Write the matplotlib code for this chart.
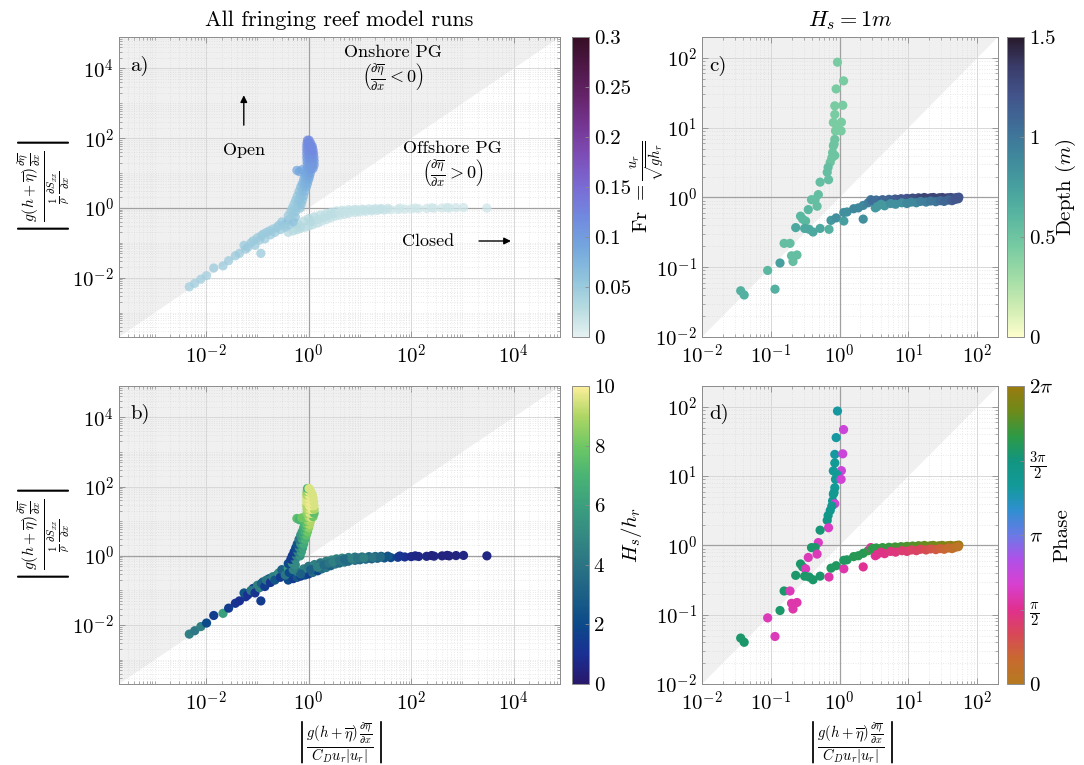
import numpy as np
import matplotlib
matplotlib.use("Agg")
import matplotlib.pyplot as plt
from matplotlib.colors import LinearSegmentedColormap
from matplotlib.ticker import FixedLocator, FuncFormatter, LogLocator, NullFormatter

plt.rcParams['font.family'] = ['cmr10']
plt.rcParams['mathtext.fontset'] = 'cm'
plt.rcParams['axes.formatter.use_mathtext'] = True
plt.rcParams['axes.unicode_minus'] = False

# ---------------- data: all fringing reef runs (panels a, b) ----------------
# horizontal (closed) branch
hor_x = [0.40, 0.50, 0.60, 0.70, 0.85, 1.0, 1.2, 1.5, 1.8, 2.2, 2.7, 3.3, 4.0, 5.0, 6.0, 8.0, 10, 13, 17, 22,
         30, 40, 55, 75, 100, 140, 200, 280, 400, 550, 750, 1050, 3000,
         0.60, 0.80, 1.0, 1.3, 1.7, 2.2, 2.8, 3.5, 4.5, 6.0, 8.0, 11, 15, 20, 26, 35, 60, 120, 250, 500,
         0.70, 1.1, 1.5, 2.0, 2.5, 3.0, 4.0, 5.0, 7.0, 9.0, 12, 18, 25]
hor_y = [0.20, 0.22, 0.24, 0.26, 0.28, 0.30, 0.33, 0.37, 0.42, 0.46, 0.52, 0.58, 0.62, 0.66, 0.70, 0.74, 0.77, 0.80, 0.82, 0.85,
         0.87, 0.89, 0.91, 0.93, 0.95, 0.96, 0.97, 0.98, 1.0, 1.0, 1.02, 1.03, 1.0,
         0.35, 0.42, 0.50, 0.56, 0.63, 0.70, 0.76, 0.82, 0.86, 0.90, 0.92, 0.93, 0.95, 0.96, 0.97, 0.98, 0.99, 1.0, 1.02, 1.03,
         0.30, 0.40, 0.47, 0.55, 0.62, 0.68, 0.74, 0.80, 0.84, 0.87, 0.88, 0.90, 0.92]
hor_ca = [0.03, 0.03, 0.03, 0.03, 0.025, 0.025, 0.025, 0.025, 0.02, 0.02, 0.02, 0.02, 0.02, 0.02, 0.02, 0.02, 0.02, 0.02, 0.02, 0.02,
          0.02, 0.015, 0.015, 0.015, 0.015, 0.015, 0.015, 0.015, 0.015, 0.015, 0.015, 0.015, 0.015,
          0.035, 0.03, 0.03, 0.03, 0.025, 0.025, 0.025, 0.025, 0.02, 0.02, 0.02, 0.02, 0.02, 0.02, 0.02, 0.02, 0.015, 0.015, 0.015, 0.015,
          0.03, 0.03, 0.025, 0.025, 0.025, 0.025, 0.02, 0.02, 0.02, 0.02, 0.02, 0.02, 0.02]
hor_cb = [2.0, 1.5, 2.5, 1.5, 2.0, 1.5, 3.5, 2.0, 3.5, 4.0, 3.0, 4.0, 3.5, 4.0, 3.5, 4.0, 3.5, 3.5, 3.0, 3.0,
          2.5, 2.0, 1.5, 1.0, 0.8, 0.7, 0.6, 0.6, 0.5, 0.5, 0.5, 0.6, 0.6,
          4.0, 4.5, 4.0, 4.5, 4.0, 4.5, 5.0, 4.5, 5.0, 4.5, 4.0, 4.0, 3.5, 3.5, 3.0, 2.5, 1.2, 0.7, 0.5, 0.5,
          3.0, 3.0, 4.5, 3.5, 4.0, 4.5, 4.0, 3.5, 4.5, 4.0, 4.5, 4.0, 3.5]

# lower diagonal branch
diag_x = [0.0047, 0.0060, 0.0079, 0.0102, 0.0141, 0.0214, 0.0275, 0.0372, 0.0447, 0.0590, 0.0830, 0.1170,
          0.1000, 0.1290, 0.1700, 0.2400, 0.3470, 0.055, 0.065, 0.075, 0.09, 0.11, 0.12, 0.14, 0.15, 0.18,
          0.20, 0.22, 0.26, 0.28, 0.30, 0.35, 0.40, 0.42, 0.50, 0.55]
diag_y = [0.0055, 0.0069, 0.0091, 0.0115, 0.0190, 0.0219, 0.0309, 0.0427, 0.0501, 0.0660, 0.1150, 0.0500,
          0.1410, 0.1780, 0.2190, 0.2750, 0.3390, 0.085, 0.075, 0.10, 0.085, 0.12, 0.16, 0.13, 0.20, 0.17,
          0.25, 0.20, 0.32, 0.24, 0.40, 0.28, 0.45, 0.33, 0.40, 0.55]
diag_ca = [0.045, 0.045, 0.045, 0.045, 0.05, 0.05, 0.05, 0.05, 0.05, 0.05, 0.05, 0.05,
           0.05, 0.05, 0.05, 0.05, 0.06, 0.05, 0.05, 0.05, 0.05, 0.05, 0.05, 0.05, 0.05, 0.05,
           0.05, 0.05, 0.05, 0.05, 0.055, 0.05, 0.06, 0.05, 0.06, 0.06]
diag_cb = [4.5, 4.2, 4.5, 2.0, 1.5, 6.0, 1.5, 1.2, 1.0, 1.2, 1.5, 1.5,
           4.5, 3.5, 2.0, 1.5, 2.0, 2.5, 1.0, 4.0, 1.2, 4.5, 3.0, 1.5, 4.0, 1.3,
           4.5, 2.5, 5.0, 1.5, 3.0, 4.0, 5.5, 2.0, 4.5, 5.0]

# vertical (open) branch
ver_x = [0.40, 0.48, 0.45, 0.55, 0.48, 0.58, 0.68, 0.52, 0.62, 0.72, 0.56, 0.66, 0.76, 0.60, 0.70, 0.80,
         0.65, 0.75, 0.85, 0.70, 0.80, 0.90, 0.75, 0.85, 0.95, 0.80, 0.90, 1.00, 0.84, 0.94, 1.04,
         0.88, 0.98, 1.08, 0.59, 0.66, 0.74, 0.92, 1.02, 1.12, 1.22, 0.93, 1.05, 1.17, 1.28,
         0.93, 1.05, 1.17, 1.28, 0.92, 1.04, 1.16, 1.27, 0.92, 1.04, 1.16, 1.25, 0.92, 1.03, 1.14, 1.22,
         0.92, 1.02, 1.12, 1.18, 0.93, 1.02, 1.10, 0.95, 1.02]
ver_y = [0.60, 0.62, 0.80, 0.80, 1.0, 1.0, 1.0, 1.3, 1.3, 1.3, 1.7, 1.7, 1.7, 2.2, 2.2, 2.2,
         3.0, 3.0, 3.0, 4.0, 4.0, 4.0, 5.0, 5.0, 5.0, 6.5, 6.5, 6.5, 8.0, 8.0, 8.0,
         10, 10, 10, 12, 11, 12.5, 13, 13, 13, 13.5, 17, 17, 17, 17,
         22, 22, 22, 22, 28, 28, 28, 28, 36, 36, 36, 36, 46, 46, 46, 46,
         58, 58, 58, 58, 72, 72, 72, 88, 88]
ver_ca = [0.05, 0.05, 0.05, 0.055, 0.05, 0.055, 0.055, 0.05, 0.055, 0.06, 0.055, 0.06, 0.06, 0.055, 0.06, 0.065,
          0.06, 0.065, 0.07, 0.065, 0.07, 0.075, 0.07, 0.075, 0.08, 0.075, 0.08, 0.085, 0.08, 0.085, 0.09,
          0.085, 0.09, 0.095, 0.09, 0.09, 0.09, 0.09, 0.095, 0.1, 0.1, 0.095, 0.1, 0.1, 0.105,
          0.1, 0.105, 0.105, 0.105, 0.105, 0.11, 0.11, 0.11, 0.11, 0.115, 0.115, 0.115, 0.115, 0.115, 0.12, 0.12,
          0.115, 0.12, 0.12, 0.12, 0.12, 0.12, 0.12, 0.12, 0.12]
ver_cb = [2.0, 5.0, 1.5, 5.0, 1.5, 4.5, 5.5, 1.5, 4.5, 6.0, 2.0, 5.0, 6.0, 2.5, 5.5, 6.5,
          4.0, 6.0, 7.0, 5.5, 6.5, 7.5, 6.0, 7.0, 8.0, 6.5, 7.5, 8.5, 7.0, 8.0, 9.0,
          7.5, 8.5, 9.0, 7.5, 7.0, 8.0, 8.0, 9.0, 9.5, 8.0, 8.5, 9.5, 9.5, 7.5,
          9.0, 9.5, 9.8, 9.0, 9.0, 9.8, 9.8, 9.5, 9.5, 9.8, 9.8, 9.5, 9.5, 9.8, 9.8, 9.5,
          9.0, 9.8, 9.8, 9.5, 8.5, 9.8, 9.5, 7.0, 9.5]

# ---------------- data: Hs = 1 m runs (panels c, d) ----------------
hs1_x = [0.93, 1.14, 0.89, 0.85, 1.11, 0.85, 0.81, 1.06, 0.91, 0.87, 1.05, 0.85, 0.83, 0.81, 0.79, 0.85,
         0.77, 0.73, 0.68, 0.66, 0.69, 0.52, 0.49, 0.44, 0.39, 0.47, 0.35, 0.27, 0.29, 0.32, 0.23, 0.31,
         0.36, 0.41, 0.52, 0.70, 0.156, 0.19, 0.20, 0.24, 0.21, 0.136, 0.09, 0.115, 0.0365, 0.041,
         0.75, 0.89, 1.15, 1.15, 1.28, 1.6, 1.87, 2.2, 2.2, 2.6, 2.84, 3.3,
         3.0, 3.4, 3.8, 4.2, 4.7, 5.2, 5.8, 6.4, 7.0, 7.8, 8.6, 9.5, 10.5, 11.5, 12.7, 14, 15.5, 17, 19,
         21, 23, 25.5, 28, 31, 34, 37, 41, 45, 50, 54,
         3.5, 4.0, 4.5, 5.5, 6.5, 8.0, 9.5, 11, 13, 15, 18, 21, 25, 29, 33, 38, 43, 48, 53]
hs1_fr = [87, 47, 36, 20.6, 21, 15.5, 11.9, 12, 10.6, 9.0, 9.0, 6.8, 5.8, 5.5, 4.4, 4.0,
          3.7, 3.2, 2.7, 2.3, 1.8, 1.66, 1.1, 0.93, 0.93, 0.75, 0.67, 0.54, 0.49, 0.46, 0.37, 0.36,
          0.35, 0.32, 0.36, 0.35, 0.22, 0.22, 0.146, 0.15, 0.121, 0.115, 0.09, 0.0485, 0.046, 0.040,
          0.47, 0.51, 0.46, 0.61, 0.62, 0.69, 0.71, 0.49, 0.77, 0.84, 0.93, 0.71,
          0.90, 0.92, 0.88, 0.93, 0.90, 0.94, 0.91, 0.95, 0.93, 0.96, 0.94, 0.97, 0.95, 0.98, 0.96, 0.99, 0.97, 1.0, 0.97,
          0.99, 1.0, 0.97, 0.99, 1.0, 0.97, 0.99, 1.0, 0.98, 1.0, 1.01,
          0.74, 0.80, 0.76, 0.82, 0.80, 0.84, 0.82, 0.86, 0.84, 0.88, 0.86, 0.89, 0.87, 0.90, 0.88, 0.92, 0.90, 0.94, 0.96]
hs1_depth = [0.45, 0.45, 0.45, 0.45, 0.45, 0.45, 0.45, 0.45, 0.45, 0.45, 0.45, 0.5, 0.5, 0.5, 0.5, 0.5,
             0.5, 0.5, 0.55, 0.55, 0.55, 0.55, 0.55, 0.55, 0.55, 0.55, 0.6, 0.6, 0.6, 0.6, 0.7, 0.7,
             0.7, 0.7, 0.7, 0.65, 0.55, 0.55, 0.55, 0.55, 0.55, 0.75, 0.6, 0.65, 0.65, 0.65,
             0.8, 0.85, 0.75, 0.85, 0.85, 0.9, 0.9, 0.85, 0.9, 0.95, 1.0, 0.8,
             1.05, 1.05, 1.05, 1.1, 1.1, 1.1, 1.15, 1.15, 1.15, 1.2, 1.2, 1.2, 1.2, 1.25, 1.25, 1.25, 1.3, 1.3, 1.3,
             1.3, 1.3, 1.3, 1.3, 1.3, 1.3, 1.3, 1.25, 1.25, 1.2, 1.2,
             0.8, 0.8, 0.8, 0.85, 0.85, 0.85, 0.9, 0.9, 0.9, 0.95, 0.95, 1.0, 1.0, 1.05, 1.1, 1.1, 1.15, 1.2, 1.2]
hs1_phase = [4.1, 2.3, 4.1, 4.1, 2.3, 4.2, 4.2, 2.3, 4.2, 4.2, 2.2, 4.2, 4.3, 4.3, 4.3, 2.2,
             4.4, 4.4, 4.5, 4.6, 2.0, 4.8, 2.0, 4.9, 4.9, 1.9, 1.9, 4.9, 4.9, 1.9, 4.9, 4.9,
             4.9, 4.9, 4.9, 1.8, 4.9, 1.9, 1.8, 1.8, 1.8, 4.9, 1.9, 1.9, 4.9, 4.9,
             5.0, 5.0, 1.8, 5.0, 5.0, 5.1, 5.1, 1.6, 5.1, 5.2, 1.7, 1.6,
             5.2, 5.2, 5.2, 5.3, 5.3, 5.3, 5.3, 5.4, 5.4, 5.4, 5.4, 5.5, 5.5, 5.5, 5.6, 5.6, 5.6, 5.7, 5.7,
             5.7, 5.8, 5.8, 5.9, 5.9, 6.0, 6.0, 6.1, 6.1, 6.2, 6.2,
             1.6, 1.5, 1.5, 1.4, 1.4, 1.3, 1.3, 1.2, 1.2, 1.1, 1.0, 0.9, 0.8, 0.7, 0.6, 0.5, 0.4, 0.3, 0.2]

ab_x = hor_x + diag_x + ver_x
ab_y = hor_y + diag_y + ver_y
ab_ca = hor_ca + diag_ca + ver_ca
ab_cb = hor_cb + diag_cb + ver_cb

# ---------------- colormaps (cmocean-like) ----------------
dense = LinearSegmentedColormap.from_list('dense', ['#e6f1f1', '#b4dae0', '#8ec2dc', '#74a6de', '#7189df',
                                                    '#7a6bd4', '#7d4fb8', '#763795', '#66246b', '#4f1848', '#360e24'])
haline = LinearSegmentedColormap.from_list('haline', ['#29186b', '#1a2f93', '#0c4a8a', '#1c6086', '#2b7484',
                                                      '#348a83', '#3b9f7e', '#4ab474', '#6ec764', '#aed664', '#fdef9a'])
deep = LinearSegmentedColormap.from_list('deep', ['#fdfecc', '#cdecb2', '#a0dca6', '#78cba2', '#5ab7a0',
                                                  '#47a09f', '#3f889c', '#3f6f98', '#42558c', '#3a3d6b', '#281a2c'])
phase = LinearSegmentedColormap.from_list('phase', ['#b57a20', '#c86a30', '#d84858', '#e0308f', '#d840d0',
                                                    '#b050e8', '#6a7ae6', '#2f8fd0', '#129a98', '#129580',
                                                    '#2e9a45', '#6d8a1a', '#9a7a10'])

W, H = 1084, 765
fig = plt.figure(figsize=(W / 100, H / 100), dpi=100)


def pos(x0, y0, x1, y1):
    return [x0 / W, 1 - y1 / H, (x1 - x0) / W, (y1 - y0) / H]


ax_a = fig.add_axes(pos(119, 37, 560, 337))
ax_b = fig.add_axes(pos(119, 386, 560, 684))
cax_a = fig.add_axes(pos(572, 37, 589, 337))
cax_b = fig.add_axes(pos(572, 386, 589, 684))
ax_c = fig.add_axes(pos(702, 37, 998, 337))
ax_d = fig.add_axes(pos(702, 386, 998, 684))
cax_c = fig.add_axes(pos(1007, 37, 1024, 337))
cax_d = fig.add_axes(pos(1007, 386, 1024, 684))

FS = 15
spine_col = '#8c8c8c'


def pow_fmt(v, p):
    e = int(round(np.log10(v)))
    return r'$10^{%d}$' % e


def style_axes(ax, lim, majors):
    ax.set_xscale('log')
    ax.set_yscale('log')
    ax.set_xlim(lim)
    ax.set_ylim(lim)
    ax.fill([lim[0], lim[1], lim[0]], [lim[0], lim[1], lim[1]], color='#f0f0f0', zorder=0.2, lw=0)
    ax.set_axisbelow(True)
    for axis in (ax.xaxis, ax.yaxis):
        axis.set_major_locator(FixedLocator(majors))
        axis.set_major_formatter(FuncFormatter(pow_fmt))
        axis.set_minor_locator(LogLocator(base=10, subs=np.arange(1, 10), numticks=60))
        axis.set_minor_formatter(NullFormatter())
    ax.grid(which='major', color='#d8d8d8', lw=0.7, ls='-')
    ax.grid(which='minor', color='#d6d6d6', lw=0.5, ls=(0, (1, 2.5)))
    ax.axhline(1, color='#a0a0a0', lw=0.9, zorder=0.6)
    ax.axvline(1, color='#a0a0a0', lw=0.9, zorder=0.6)
    ax.tick_params(which='both', direction='in', top=True, right=True, color=spine_col, labelsize=FS)
    ax.tick_params(which='major', length=4, width=0.6)
    ax.tick_params(which='minor', length=2, width=0.5)
    ax.tick_params(axis='x', which='major', pad=5)
    for s in ax.spines.values():
        s.set_color(spine_col)
        s.set_linewidth(0.7)


lim_ab = (2e-4, 8e4)
lim_cd = (1e-2, 2e2)
for ax in (ax_a, ax_b):
    style_axes(ax, lim_ab, [1e-2, 1e0, 1e2, 1e4])
for ax in (ax_c, ax_d):
    style_axes(ax, lim_cd, [1e-2, 1e-1, 1e0, 1e1, 1e2])

ms = 44
sa = ax_a.scatter(ab_x, ab_y, c=ab_ca, cmap=dense, vmin=0, vmax=0.3, s=ms, lw=0, alpha=0.75, zorder=3)
sb = ax_b.scatter(ab_x, ab_y, c=ab_cb, cmap=haline, vmin=0, vmax=10, s=ms, lw=0, zorder=3)
sc = ax_c.scatter(hs1_x, hs1_fr, c=hs1_depth, cmap=deep, vmin=0, vmax=1.5, s=ms, lw=0, zorder=3)
sd = ax_d.scatter(hs1_x, hs1_fr, c=hs1_phase, cmap=phase, vmin=0, vmax=2 * np.pi, s=ms, lw=0, zorder=3)

# labels
ylab_ab = r'$\left|\frac{g(h+\overline{\eta})\,\frac{\partial\overline{\eta}}{\partial x}}{\frac{1}{\rho}\,\frac{\partial S_{xx}}{\partial x}}\right|$'
xlab = r'$\left|\frac{g(h+\overline{\eta})\,\frac{\partial\overline{\eta}}{\partial x}}{C_D u_r|u_r|}\right|$'
ax_a.set_ylabel(ylab_ab, fontsize=16)
ax_b.set_ylabel(ylab_ab, fontsize=16)
for ax in (ax_a, ax_b):
    ax.yaxis.set_label_coords(-0.105, 0.5)
ax_b.set_xlabel(xlab, fontsize=FS, labelpad=3)
ax_d.set_xlabel(xlab, fontsize=FS, labelpad=3)
ax_c.set_ylabel(r'Fr $=\frac{u_r}{\sqrt{g h_r}}$', fontsize=FS)
ax_c.yaxis.set_label_coords(-0.118, 0.5)

ax_a.set_title('All fringing reef model runs', fontsize=16, pad=8)
ax_c.set_title(r'$H_s = 1m$', fontsize=16, pad=8)

for ax, lab in ((ax_a, 'a)'), (ax_b, 'b)'), (ax_c, 'c)'), (ax_d, 'd)')):
    ax.text(0.025, 0.905, lab, transform=ax.transAxes, fontsize=FS, ha='left', va='center', zorder=5)

# annotations in a
ax_a.text(0.621, 0.95, 'Onshore PG', transform=ax_a.transAxes, fontsize=13, ha='center', va='center')
ax_a.text(0.621, 0.867, r'$\left(\frac{\partial\overline{\eta}}{\partial x}<0\right)$', transform=ax_a.transAxes,
          fontsize=13, ha='center', va='center')
ax_a.text(0.757, 0.63, 'Offshore PG', transform=ax_a.transAxes, fontsize=13, ha='center', va='center')
ax_a.text(0.757, 0.547, r'$\left(\frac{\partial\overline{\eta}}{\partial x}>0\right)$', transform=ax_a.transAxes,
          fontsize=13, ha='center', va='center')
ax_a.text(0.283, 0.623, 'Open', transform=ax_a.transAxes, fontsize=13, ha='center', va='center')
ax_a.annotate('', xy=(0.283, 0.815), xytext=(0.283, 0.697), xycoords='axes fraction',
              arrowprops=dict(arrowstyle='-|>', color='black', lw=1.0, mutation_scale=10))
ax_a.text(0.70, 0.32, 'Closed', transform=ax_a.transAxes, fontsize=13, ha='center', va='center')
ax_a.annotate('', xy=(0.895, 0.32), xytext=(0.81, 0.32), xycoords='axes fraction',
              arrowprops=dict(arrowstyle='-|>', color='black', lw=1.0, mutation_scale=10))


# colorbars
def style_cbar(cb):
    cb.outline.set_edgecolor(spine_col)
    cb.outline.set_linewidth(0.7)
    cb.ax.tick_params(direction='in', color=spine_col, length=3, width=0.6, labelsize=FS)


cba = fig.colorbar(sa, cax=cax_a)
cba.solids.set_alpha(1)
cba.set_ticks([0, 0.05, 0.1, 0.15, 0.2, 0.25, 0.3])
cba.set_ticklabels(['0', '0.05', '0.1', '0.15', '0.2', '0.25', '0.3'])
style_cbar(cba)

cbb = fig.colorbar(sb, cax=cax_b)
cbb.set_ticks([0, 2, 4, 6, 8, 10])
cbb.set_ticklabels(['0', '2', '4', '6', '8', '10'])
cbb.set_label(r'$H_s/h_r$', fontsize=FS)
style_cbar(cbb)

cbc = fig.colorbar(sc, cax=cax_c)
cbc.set_ticks([0, 0.5, 1, 1.5])
cbc.set_ticklabels(['0', '0.5', '1', '1.5'])
cbc.set_label(r'Depth $(m)$', fontsize=FS)
style_cbar(cbc)

cbd = fig.colorbar(sd, cax=cax_d)
cbd.set_ticks([0, np.pi / 2, np.pi, 3 * np.pi / 2, 2 * np.pi])
cbd.set_ticklabels(['0', r'$\frac{\pi}{2}$', r'$\pi$', r'$\frac{3\pi}{2}$', r'$2\pi$'])
cbd.set_label('Phase', fontsize=FS)
style_cbar(cbd)

for cb in (cbb, cbc, cbd):
    cb.ax.yaxis.set_label_coords(2.75, 0.5)

fig.savefig('out.png', dpi=100)
